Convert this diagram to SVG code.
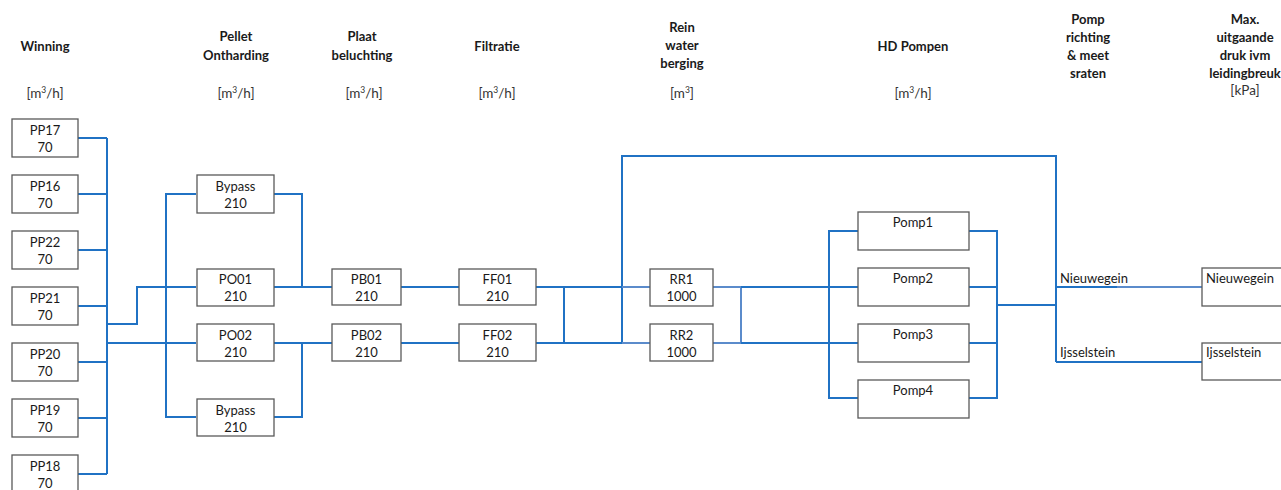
<svg xmlns="http://www.w3.org/2000/svg" width="1281" height="490" viewBox="0 0 1281 490">
<style>
text{font-family:Lato,"Open Sans","Liberation Sans",sans-serif;font-size:13px;fill:#1a1a1a}
.h{font-weight:bold;text-anchor:middle;font-size:13px}
.u{text-anchor:middle;font-size:13.5px;fill:#333}
.c{text-anchor:middle}
.box{fill:#fff;stroke:#595959;stroke-width:1.3}
.ln{fill:none;stroke:#2072c4;stroke-width:2}
.lt{fill:none;stroke:#5b8bcb;stroke-width:2}
</style>
<rect width="1281" height="490" fill="#fff"/>
<g id="headers">
<text class="h" x="45" y="51">Winning</text>
<text class="u" x="45" y="98">[m<tspan dy="-5" font-size="8.5">3</tspan><tspan dy="5">/h]</tspan></text>
<text class="h" x="236" y="41">Pellet</text>
<text class="h" x="236" y="60">Ontharding</text>
<text class="u" x="236" y="98">[m<tspan dy="-5" font-size="8.5">3</tspan><tspan dy="5">/h]</tspan></text>
<text class="h" x="362" y="41">Plaat</text>
<text class="h" x="362" y="60">beluchting</text>
<text class="u" x="364" y="98">[m<tspan dy="-5" font-size="8.5">3</tspan><tspan dy="5">/h]</tspan></text>
<text class="h" x="497" y="51">Filtratie</text>
<text class="u" x="497" y="98">[m<tspan dy="-5" font-size="8.5">3</tspan><tspan dy="5">/h]</tspan></text>
<text class="h" x="682" y="32">Rein</text>
<text class="h" x="682" y="50">water</text>
<text class="h" x="682" y="68">berging</text>
<text class="u" x="682" y="98">[m<tspan dy="-5" font-size="8.5">3</tspan><tspan dy="5">]</tspan></text>
<text class="h" x="913" y="51">HD Pompen</text>
<text class="u" x="913" y="98">[m<tspan dy="-5" font-size="8.5">3</tspan><tspan dy="5">/h]</tspan></text>
<text class="h" x="1088" y="24">Pomp</text>
<text class="h" x="1088" y="42">richting</text>
<text class="h" x="1088" y="60">&amp; meet</text>
<text class="h" x="1088" y="78">sraten</text>
<text class="h" x="1245" y="24">Max.</text>
<text class="h" x="1245" y="42">uitgaande</text>
<text class="h" x="1245" y="60">druk ivm</text>
<text class="h" x="1245" y="78">leidingbreuk</text>
<text class="u" x="1245" y="95">[kPa]</text>
</g>
<g id="connectors">
<path class="ln" d="M78 138H107M78 194H107M78 250H107M78 306H107M78 362H107M78 418H107M78 474H107M107 138V474"/>
<path class="ln" d="M107 324H137V287H196M107 343H196"/>
<path class="ln" d="M196 194H166V417H196M274 194H302V287M274 417H302V343"/>
<path class="ln" d="M274 287H332M274 343H332M401 287H459M401 343H459M536 287H622M536 343H622M564 287V343"/>
<path class="ln" d="M622 343V156H1056V362"/>
<path class="lt" d="M622 287H650M622 343H650M713 287H741M713 343H741M741 287V343"/>
<path class="ln" d="M741 287H858M741 343H858M858 231H829V398H858M969 231H997V398H969M969 287H997M969 343H997M997 305H1056"/>
<path class="ln" d="M1056 287H1117M1056 362H1202"/>
<path class="lt" d="M1117 287H1202"/>
</g>
<g id="PP17"><rect class="box" x="12" y="119" width="66" height="38"/><text class="c" x="45" y="135">PP17</text><text class="c" x="45" y="152">70</text></g>
<g id="PP16"><rect class="box" x="12" y="175" width="66" height="38"/><text class="c" x="45" y="191">PP16</text><text class="c" x="45" y="208">70</text></g>
<g id="PP22"><rect class="box" x="12" y="231" width="66" height="38"/><text class="c" x="45" y="247">PP22</text><text class="c" x="45" y="264">70</text></g>
<g id="PP21"><rect class="box" x="12" y="287" width="66" height="38"/><text class="c" x="45" y="303">PP21</text><text class="c" x="45" y="320">70</text></g>
<g id="PP20"><rect class="box" x="12" y="343" width="66" height="38"/><text class="c" x="45" y="359">PP20</text><text class="c" x="45" y="376">70</text></g>
<g id="PP19"><rect class="box" x="12" y="399" width="66" height="38"/><text class="c" x="45" y="415">PP19</text><text class="c" x="45" y="432">70</text></g>
<g id="PP18"><rect class="box" x="12" y="455" width="66" height="38"/><text class="c" x="45" y="471">PP18</text><text class="c" x="45" y="488">70</text></g>
<g id="Bypass1"><rect class="box" x="197" y="175" width="77" height="38"/><text class="c" x="235.5" y="191">Bypass</text><text class="c" x="235.5" y="208">210</text></g>
<g id="PO01"><rect class="box" x="197" y="269" width="77" height="37"/><text class="c" x="235.5" y="284">PO01</text><text class="c" x="235.5" y="301">210</text></g>
<g id="PO02"><rect class="box" x="197" y="324" width="77" height="37"/><text class="c" x="235.5" y="340">PO02</text><text class="c" x="235.5" y="357">210</text></g>
<g id="Bypass2"><rect class="box" x="197" y="399" width="77" height="37"/><text class="c" x="235.5" y="415">Bypass</text><text class="c" x="235.5" y="432">210</text></g>
<g id="PB01"><rect class="box" x="332" y="269" width="69" height="36"/><text class="c" x="366.5" y="284">PB01</text><text class="c" x="366.5" y="301">210</text></g>
<g id="PB02"><rect class="box" x="332" y="324" width="69" height="37"/><text class="c" x="366.5" y="340">PB02</text><text class="c" x="366.5" y="357">210</text></g>
<g id="FF01"><rect class="box" x="459" y="269" width="77" height="36"/><text class="c" x="497.5" y="284">FF01</text><text class="c" x="497.5" y="301">210</text></g>
<g id="FF02"><rect class="box" x="459" y="324" width="77" height="37"/><text class="c" x="497.5" y="340">FF02</text><text class="c" x="497.5" y="357">210</text></g>
<g id="RR1"><rect class="box" x="650" y="269" width="63" height="37"/><text class="c" x="681.5" y="284">RR1</text><text class="c" x="681.5" y="301">1000</text></g>
<g id="RR2"><rect class="box" x="650" y="324" width="63" height="37"/><text class="c" x="681.5" y="340">RR2</text><text class="c" x="681.5" y="357">1000</text></g>
<g id="Pomp1"><rect class="box" x="858" y="212" width="111" height="38"/><text class="c" x="913" y="227">Pomp1</text></g>
<g id="Pomp2"><rect class="box" x="858" y="268" width="111" height="38"/><text class="c" x="913" y="283">Pomp2</text></g>
<g id="Pomp3"><rect class="box" x="858" y="324" width="111" height="38"/><text class="c" x="913" y="339">Pomp3</text></g>
<g id="Pomp4"><rect class="box" x="858" y="380" width="111" height="38"/><text class="c" x="913" y="395">Pomp4</text></g>
<g id="labels"><text x="1060" y="283">Nieuwegein</text><text x="1060" y="357">Ijsselstein</text></g>
<g id="Nieuwegein"><rect class="box" x="1202" y="268" width="90" height="38"/><text x="1206" y="283">Nieuwegein</text></g>
<g id="Ijsselstein"><rect class="box" x="1202" y="343" width="90" height="37"/><text x="1206" y="357">Ijsselstein</text></g>
</svg>
